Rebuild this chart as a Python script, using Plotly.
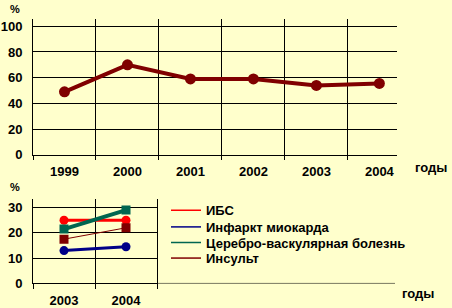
import plotly.graph_objects as go

# Top chart data
years_top = [1999, 2000, 2001, 2002, 2003, 2004]
values_top = [49, 70, 59, 59, 54, 55.5]
y_ticks_top = [0, 20, 40, 60, 80, 100]

# Bottom chart data
years_bottom = [2003, 2004]
series_names = ["ИБС", "Инфаркт миокарда", "Церебро-васкулярная болезнь", "Инсульт"]
ibs = [25, 25]
infarkt = [13, 14.5]
cerebro = [21.5, 29]
insult = [17.5, 22]
y_ticks_bottom = [0, 10, 20, 30]

colors = ["#FF0000", "#000088", "#006650", "#800000"]
series_values = [ibs, infarkt, cerebro, insult]
line_widths = [3, 3, 4, 1]
symbols = ["circle", "circle", "square", "square"]

W, H = 452, 308
BG = "#FFFFCC"
FONT = "Liberation Sans"

def px_x(p):
    return p / W

def px_y(p):
    return 1 - p / H

fig = go.Figure()

fig.add_trace(go.Scatter(
    x=years_top, y=values_top, mode="lines+markers",
    line=dict(color="#800000", width=4),
    marker=dict(color="#800000", size=11, symbol="circle"),
    showlegend=False, xaxis="x", yaxis="y",
))

for name, vals, c, lw, sym in zip(series_names, series_values, colors, line_widths, symbols):
    fig.add_trace(go.Scatter(
        x=years_bottom, y=vals, mode="lines+markers",
        line=dict(color=c, width=lw),
        marker=dict(color=c, size=9, symbol=sym),
        showlegend=False, xaxis="x2", yaxis="y2",
    ))

legend_ids = ["legend", "legend2", "legend3", "legend4"]
legend_centers = [216, 233, 249, 265]
for name, c, lid in zip(series_names, colors, legend_ids):
    fig.add_trace(go.Scatter(
        x=[None], y=[None], mode="lines", name=name,
        line=dict(color=c, width=1.5),
        showlegend=True, legend=lid, xaxis="x2", yaxis="y2",
    ))

tickfont = dict(family=FONT, size=13, color="black", weight="bold")
legfont = dict(family=FONT, size=13, color="black", weight="bold")

layout_legends = {}
for lid, cy in zip(legend_ids, legend_centers):
    layout_legends[lid] = dict(
        x=px_x(166), y=px_y(cy), xanchor="left", yanchor="middle",
        bgcolor="rgba(0,0,0,0)", font=legfont, itemwidth=30,
    )

fig.update_layout(
    width=W, height=H,
    margin=dict(l=0, r=0, t=0, b=0),
    paper_bgcolor=BG, plot_bgcolor=BG,
    xaxis=dict(
        domain=[px_x(33), px_x(397)], range=[1998.5, 2004.28],
        tickvals=years_top, ticktext=[str(y) for y in years_top],
        showgrid=False, zeroline=False, showline=True, linecolor="black", linewidth=1,
        ticks="", ticklabelstandoff=5, tickfont=tickfont,
        minor=dict(tick0=1999.5, dtick=1, showgrid=True, gridcolor="black", gridwidth=1,
                   ticks="outside", ticklen=4, tickcolor="black"),
        anchor="y",
    ),
    yaxis=dict(
        domain=[px_y(159), px_y(19)], range=[0, 106],
        tickvals=y_ticks_top, showgrid=True, gridcolor="black", gridwidth=1,
        zeroline=False, showline=True, linecolor="black", linewidth=1,
        ticks="outside", ticklen=0, ticklabelstandoff=7, tickfont=tickfont,
        anchor="x",
    ),
    xaxis2=dict(
        domain=[px_x(33), px_x(157)], range=[2002.5, 2004.5],
        tickvals=years_bottom, ticktext=[str(y) for y in years_bottom],
        showgrid=False, zeroline=False, showline=True, linecolor="black", linewidth=1,
        ticks="", ticklabelstandoff=5, tickfont=tickfont,
        minor=dict(tick0=2003.5, dtick=1, showgrid=True, gridcolor="black", gridwidth=1,
                   ticks="outside", ticklen=5, tickcolor="black"),
        anchor="y2",
    ),
    yaxis2=dict(
        domain=[px_y(291), px_y(204)], range=[0, 33.5],
        tickvals=y_ticks_bottom, showgrid=True, gridcolor="black", gridwidth=1,
        zeroline=False, showline=True, linecolor="black", linewidth=1, mirror=True,
        ticks="outside", ticklen=0, ticklabelstandoff=7, tickfont=tickfont,
        anchor="x2",
    ),
    shapes=[
        dict(type="line", xref="paper", yref="y2", x0=px_x(157), x1=px_x(395), y0=0, y1=0,
             line=dict(color="black", width=1)),
    ],
    annotations=[
        dict(text="%", x=px_x(15), y=px_y(9), xref="paper", yref="paper", showarrow=False,
             xanchor="center", yanchor="middle",
             font=dict(family=FONT, size=11, color="black", weight="bold")),
        dict(text="%", x=px_x(15), y=px_y(192), xref="paper", yref="paper", showarrow=False,
             xanchor="center", yanchor="middle",
             font=dict(family=FONT, size=11, color="black", weight="bold")),
        dict(text="годы", x=px_x(431), y=px_y(172), xref="paper", yref="paper", showarrow=False,
             xanchor="center", yanchor="middle",
             font=dict(family=FONT, size=13, color="black", weight="bold")),
        dict(text="годы", x=px_x(418), y=px_y(301), xref="paper", yref="paper", showarrow=False,
             xanchor="center", yanchor="middle",
             font=dict(family=FONT, size=13, color="black", weight="bold")),
    ],
    **layout_legends,
)

fig.write_html("out.html")
